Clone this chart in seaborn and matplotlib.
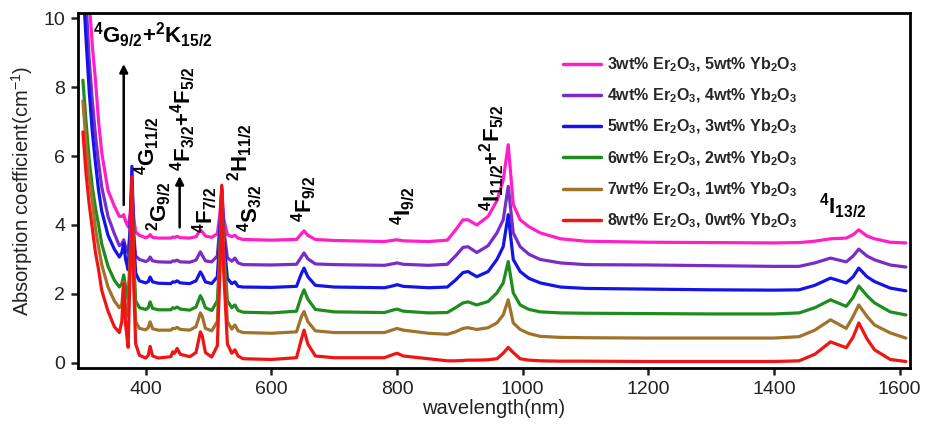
import numpy as np
import pandas as pd
import matplotlib
matplotlib.use("Agg")
import matplotlib.pyplot as plt
import seaborn as sns

# ---------------- data ----------------
wavelength = [300, 305, 310, 315, 320, 325, 330, 340, 350, 358,
              362, 365, 368, 372, 375, 378, 381, 384,
              390, 400, 404, 407, 411, 420,
              440, 443, 446, 450, 455, 470,
              480, 487, 490, 495, 505,
              514, 518, 521, 524, 530,
              537, 542, 547, 555,
              600, 640, 648, 652, 658, 670,
              700, 780, 795, 800, 810,
              850, 880, 893, 905, 913,
              927, 945, 959, 969, 977,
              985, 996, 1010, 1028, 1060,
              1100, 1200, 1300, 1400,
              1440, 1465, 1490, 1515, 1526,
              1535, 1548, 1560, 1585, 1610]

pink = [15.0, 12.5, 10.5, 9.2, 8.2, 7.0, 6.1, 5.0, 4.55, 4.25,
        4.25, 4.3, 4.1, 3.95, 4.3, 5.0, 4.2, 3.8,
        3.7, 3.63, 3.66, 3.72, 3.64, 3.62,
        3.62, 3.65, 3.64, 3.67, 3.63, 3.62,
        3.66, 3.86, 3.8, 3.68, 3.64,
        3.75, 4.3, 5.05, 4.2, 3.72,
        3.66, 3.7, 3.62, 3.58,
        3.56, 3.58, 3.75, 3.83, 3.7, 3.58,
        3.55, 3.52, 3.56, 3.57, 3.54,
        3.52, 3.56, 3.85, 4.15, 4.15,
        4.0, 4.25, 4.7, 5.3, 6.33,
        4.6, 4.15, 3.95, 3.77, 3.6,
        3.53, 3.5, 3.49, 3.48,
        3.49, 3.53, 3.6, 3.62, 3.72,
        3.86, 3.68, 3.6, 3.5, 3.48]

purple = [12.5, 10.5, 8.8, 7.6, 6.6, 5.8, 5.1, 4.25, 3.75, 3.4,
          3.45, 3.57, 3.35, 3.2, 3.8, 5.3, 3.7, 3.1,
          3.0, 2.94, 2.98, 3.07, 2.96, 2.93,
          2.92, 2.96, 2.95, 2.98, 2.93, 2.92,
          2.98, 3.22, 3.12, 2.96, 2.93,
          3.1, 4.0, 5.1, 3.9, 3.05,
          2.95, 3.04, 2.9, 2.85,
          2.84, 2.86, 3.08, 3.19, 3.02, 2.87,
          2.85, 2.83, 2.88, 2.9, 2.86,
          2.83, 2.86, 3.1, 3.35, 3.37,
          3.2, 3.4, 3.77, 4.15, 5.12,
          3.77, 3.37, 3.15, 3.0, 2.9,
          2.85, 2.84, 2.82, 2.8,
          2.8, 2.9, 3.04, 2.93, 3.1,
          3.3, 3.1, 2.99, 2.84, 2.78]

blue = [11.0, 9.4, 7.9, 6.7, 5.8, 5.0, 4.4, 3.7, 3.3, 3.07,
        3.2, 3.47, 3.0, 2.7, 3.8, 5.7, 3.6, 2.6,
        2.38, 2.32, 2.36, 2.49, 2.35, 2.31,
        2.3, 2.35, 2.34, 2.38, 2.32, 2.3,
        2.38, 2.64, 2.55, 2.35, 2.3,
        2.5, 3.7, 5.0, 3.6, 2.45,
        2.3, 2.35, 2.22, 2.2,
        2.19, 2.22, 2.6, 2.75, 2.5, 2.25,
        2.2, 2.18, 2.24, 2.27, 2.22,
        2.18, 2.2, 2.4, 2.62, 2.65,
        2.5, 2.65, 3.0, 3.37, 4.3,
        3.0, 2.65, 2.45, 2.32, 2.2,
        2.16, 2.14, 2.12, 2.11,
        2.12, 2.25, 2.46, 2.32, 2.5,
        2.75, 2.5, 2.36, 2.17, 2.09]

green = [8.2, 7.0, 5.9, 5.1, 4.5, 4.0, 3.45, 2.8, 2.4, 2.2,
         2.3, 2.55, 2.2, 1.85, 3.0, 4.9, 3.0, 1.8,
         1.6, 1.55, 1.6, 1.77, 1.58, 1.54,
         1.54, 1.6, 1.58, 1.62, 1.56, 1.53,
         1.62, 1.95, 1.85, 1.6, 1.52,
         1.8, 3.2, 4.9, 3.3, 1.8,
         1.6, 1.68, 1.52, 1.47,
         1.45, 1.5, 1.95, 2.12, 1.85, 1.55,
         1.48, 1.46, 1.54, 1.56, 1.5,
         1.45, 1.46, 1.6, 1.74, 1.77,
         1.68, 1.78, 2.03, 2.32, 2.94,
         2.03, 1.68, 1.55, 1.48, 1.45,
         1.44, 1.43, 1.42, 1.42,
         1.45, 1.6, 1.83, 1.64, 1.9,
         2.23, 1.95, 1.74, 1.48, 1.39]

brown = [7.6, 6.4, 5.4, 4.7, 3.9, 3.35, 2.85, 2.2, 1.8, 1.6,
         1.7, 2.35, 1.6, 1.35, 2.8, 5.0, 2.6, 1.2,
         1.0, 0.96, 1.02, 1.19, 0.99, 0.95,
         0.95, 1.0, 0.99, 1.03, 0.97, 0.95,
         1.05, 1.45, 1.35, 1.0, 0.93,
         1.2, 3.0, 4.95, 3.1, 1.2,
         0.98, 1.1, 0.93, 0.88,
         0.86, 0.9, 1.35, 1.49, 1.2, 0.93,
         0.88, 0.88, 0.97, 1.0, 0.95,
         0.86, 0.83, 0.9, 1.0, 1.02,
         0.97, 1.02, 1.16, 1.39, 1.83,
         1.16, 0.97, 0.85, 0.77, 0.74,
         0.73, 0.72, 0.72, 0.72,
         0.76, 0.95, 1.25, 1.0, 1.35,
         1.68, 1.35, 1.1, 0.87, 0.72]

red = [6.7, 5.5, 4.6, 3.9, 3.2, 2.7, 2.1, 1.5, 1.05, 0.88,
       1.2, 2.3, 1.1, 0.45, 2.6, 5.4, 2.2, 0.55,
       0.22, 0.14, 0.22, 0.48, 0.2, 0.14,
       0.18, 0.32, 0.28, 0.42, 0.25, 0.18,
       0.3, 0.9, 0.78, 0.3, 0.17,
       0.5, 2.6, 5.15, 2.7, 0.55,
       0.28, 0.38, 0.2, 0.12,
       0.1, 0.15, 0.7, 0.95, 0.55, 0.2,
       0.15, 0.15, 0.25, 0.28, 0.2,
       0.12, 0.06, 0.06, 0.07, 0.08,
       0.08, 0.09, 0.12, 0.28, 0.45,
       0.3, 0.12, 0.08, 0.06, 0.05,
       0.05, 0.04, 0.04, 0.04,
       0.06, 0.25, 0.61, 0.44, 0.75,
       1.16, 0.7, 0.38, 0.1, 0.04]

labels = ["3wt% Er$_2$O$_3$, 5wt% Yb$_2$O$_3$",
          "4wt% Er$_2$O$_3$, 4wt% Yb$_2$O$_3$",
          "5wt% Er$_2$O$_3$, 3wt% Yb$_2$O$_3$",
          "6wt% Er$_2$O$_3$, 2wt% Yb$_2$O$_3$",
          "7wt% Er$_2$O$_3$, 1wt% Yb$_2$O$_3$",
          "8wt% Er$_2$O$_3$, 0wt% Yb$_2$O$_3$"]
series = [pink, purple, blue, green, brown, red]
colors = ["#ff1ec8", "#7a2cc8", "#1414e6", "#1f8c1f", "#a0722a", "#f01414"]

xticks = [400, 600, 800, 1000, 1200, 1400, 1600]
yticks = [0, 2, 4, 6, 8, 10]

# ---------------- plot ----------------
sns.set_theme(style="ticks")
plt.rcParams["font.family"] = ["Liberation Sans", "DejaVu Sans"]
plt.rcParams["mathtext.default"] = "regular"

rows = []
for lab, vals in zip(labels, series):
    for w, v in zip(wavelength, vals):
        rows.append((w, v, lab))
df = pd.DataFrame(rows, columns=["wavelength", "absorption", "sample"])

fig = plt.figure(figsize=(9.27, 4.32), dpi=100)
ax = fig.add_axes([0.084, 0.148, 0.898, 0.822])

sns.lineplot(data=df, x="wavelength", y="absorption", hue="sample",
             hue_order=labels, palette=colors, linewidth=2.3,
             estimator=None, sort=True, ax=ax, legend=True)

ax.set_xlim(292, 1617)
ax.set_ylim(-0.15, 10.15)
ax.set_xticks(xticks)
ax.set_yticks(yticks)
ax.tick_params(axis="both", labelsize=14, length=5, width=1.8,
               colors="#222222", direction="out", pad=4)
for s in ax.spines.values():
    s.set_linewidth(2.0)
    s.set_color("black")
ax.set_xlabel("wavelength(nm)", fontsize=14.5, color="#222222", labelpad=1)
ax.set_ylabel("Absorption coefficient(cm$^{-1}$)", fontsize=14.5,
              color="#222222", labelpad=6)

handles, labs = ax.get_legend_handles_labels()
for h in handles:
    h.set_linewidth(2.5)
ax.legend(handles, labs, loc="upper left", bbox_to_anchor=(0.565, 0.92),
          frameon=False, prop={"weight": "bold", "size": 11.5},
          handlelength=2.4, labelspacing=0.8, handletextpad=0.4)

# annotations
kw = dict(fontsize=16, fontweight="bold", color="black")
ax.text(412, 9.5, r"$^4$G$_{9/2}$+$^2$K$_{15/2}$", ha="center", va="center", **kw)
ax.annotate("", xy=(365, 8.75), xytext=(365, 4.5),
            arrowprops=dict(arrowstyle="-|>", color="black", lw=1.8,
                            mutation_scale=12))
ax.text(402, 6.3, r"$^4$G$_{11/2}$", rotation=90, ha="center", va="center", **kw)
ax.text(422, 4.55, r"$^2$G$_{9/2}$", rotation=90, ha="center", va="center", **kw)
ax.text(459, 7.1, r"$^4$F$_{3/2}$+$^4$F$_{5/2}$", rotation=90, ha="center", va="center", **kw)
ax.annotate("", xy=(454, 5.5), xytext=(454, 3.85),
            arrowprops=dict(arrowstyle="-|>", color="black", lw=1.8,
                            mutation_scale=12))
ax.text(494, 4.45, r"$^4$F$_{7/2}$", rotation=90, ha="center", va="center", **kw)
ax.text(550, 6.1, r"$^2$H$_{11/2}$", rotation=90, ha="center", va="center", **kw)
ax.text(566, 4.5, r"$^4$S$_{3/2}$", rotation=90, ha="center", va="center", **kw)
ax.text(653, 4.75, r"$^4$F$_{9/2}$", rotation=90, ha="center", va="center", **kw)
ax.text(810, 4.55, r"$^4$I$_{9/2}$", rotation=90, ha="center", va="center", **kw)
ax.text(952, 5.95, r"$^4$I$_{11/2}$+$^2$F$_{5/2}$", rotation=90, ha="center", va="center", **kw)
ax.text(1509, 4.55, r"$^4$I$_{13/2}$", ha="center", va="center", **kw)

fig.savefig("out.png", dpi=100)
